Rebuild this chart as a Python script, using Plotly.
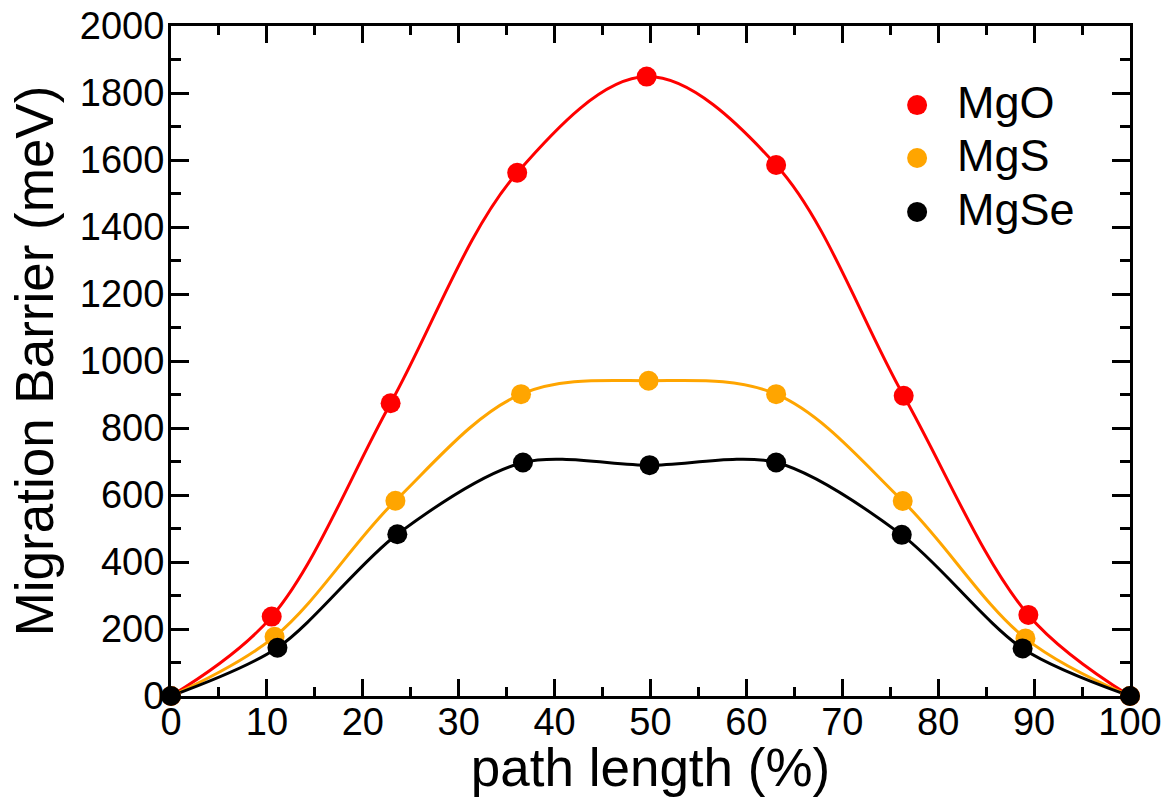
import plotly.graph_objects as go

# Data
mgo_x = [0, 10.5, 22.9, 36.1, 49.6, 63.1, 76.4, 89.4, 100]
mgo_y = [0, 237, 874, 1562, 1849, 1585, 896, 242, 0]

mgs_x = [0, 10.8, 23.4, 36.5, 49.8, 63.1, 76.3, 89.1, 100]
mgs_y = [0, 177, 583, 901, 941, 901, 582, 172, 0]

mgse_x = [0, 11.1, 23.6, 36.7, 49.9, 63.1, 76.2, 88.8, 100]
mgse_y = [0, 144, 483, 697, 689, 697, 481, 142, 0]

names = ["MgO", "MgS", "MgSe"]
colors = ["#ff0000", "#ffa500", "#000000"]
smooth = [1.0, 1.0, 0.85]
xs_all = [mgo_x, mgs_x, mgse_x]
ys_all = [mgo_y, mgs_y, mgse_y]

FONT = "Liberation Sans, Arial, Helvetica, sans-serif"

fig = go.Figure()
for name, xs, ys, col, sm in zip(names, xs_all, ys_all, colors, smooth):
    fig.add_trace(go.Scatter(
        x=xs, y=ys, mode="lines", name=name, showlegend=False,
        line=dict(color=col, width=3, shape="spline", smoothing=sm),
        cliponaxis=False, hoverinfo="skip",
    ))
for name, xs, ys, col in zip(names, xs_all, ys_all, colors):
    fig.add_trace(go.Scatter(
        x=xs, y=ys, mode="markers", name=name, showlegend=False,
        marker=dict(color=col, size=20, line=dict(width=0)),
        cliponaxis=False,
    ))

# Legend drawn as dot + label (no line), like the reference
leg_x_dot = 0.778
leg_x_txt = 0.818
leg_y = [0.882, 0.803, 0.7225]
for name, col, yy in zip(names, colors, leg_y):
    fig.add_shape(type="circle", xref="paper", yref="paper",
                  xsizemode="pixel", ysizemode="pixel",
                  xanchor=leg_x_dot, yanchor=yy,
                  x0=-10, x1=10, y0=-10, y1=10,
                  fillcolor=col, line=dict(width=0))
    fig.add_annotation(x=leg_x_txt, y=yy + 0.004, xref="paper", yref="paper",
                       text=name, showarrow=False, xanchor="left", yanchor="middle",
                       font=dict(family=FONT, size=45, color="black"))

axis_common = dict(
    showline=True, linecolor="black", linewidth=3, mirror="allticks",
    ticks="inside", tickcolor="black", tickwidth=3,
    showgrid=False, zeroline=False, automargin=False,
    tickfont=dict(family=FONT, size=38, color="black"),
)

fig.update_xaxes(
    range=[0, 100], tick0=0, dtick=10, ticklen=17, ticklabelstandoff=-10,
    minor=dict(ticks="inside", dtick=5, ticklen=9, tickwidth=3, tickcolor="black", showgrid=False),
    title=dict(text="path length (%)", font=dict(family=FONT, size=53, color="black"), standoff=3),
    **axis_common,
)
fig.update_yaxes(
    range=[0, 2000], tick0=0, dtick=200, ticklen=18, ticklabelstandoff=-4,
    minor=dict(ticks="inside", dtick=100, ticklen=10, tickwidth=3, tickcolor="black", showgrid=False),
    title=dict(text="Migration Barrier (meV)", font=dict(family=FONT, size=53, color="black"), standoff=10),
    **axis_common,
)

fig.update_layout(
    width=1166, height=797,
    margin=dict(l=171, r=36, t=26, b=101),
    paper_bgcolor="white", plot_bgcolor="white",
    font=dict(family=FONT, color="black"),
    showlegend=False,
)

fig.write_html("out.html")
